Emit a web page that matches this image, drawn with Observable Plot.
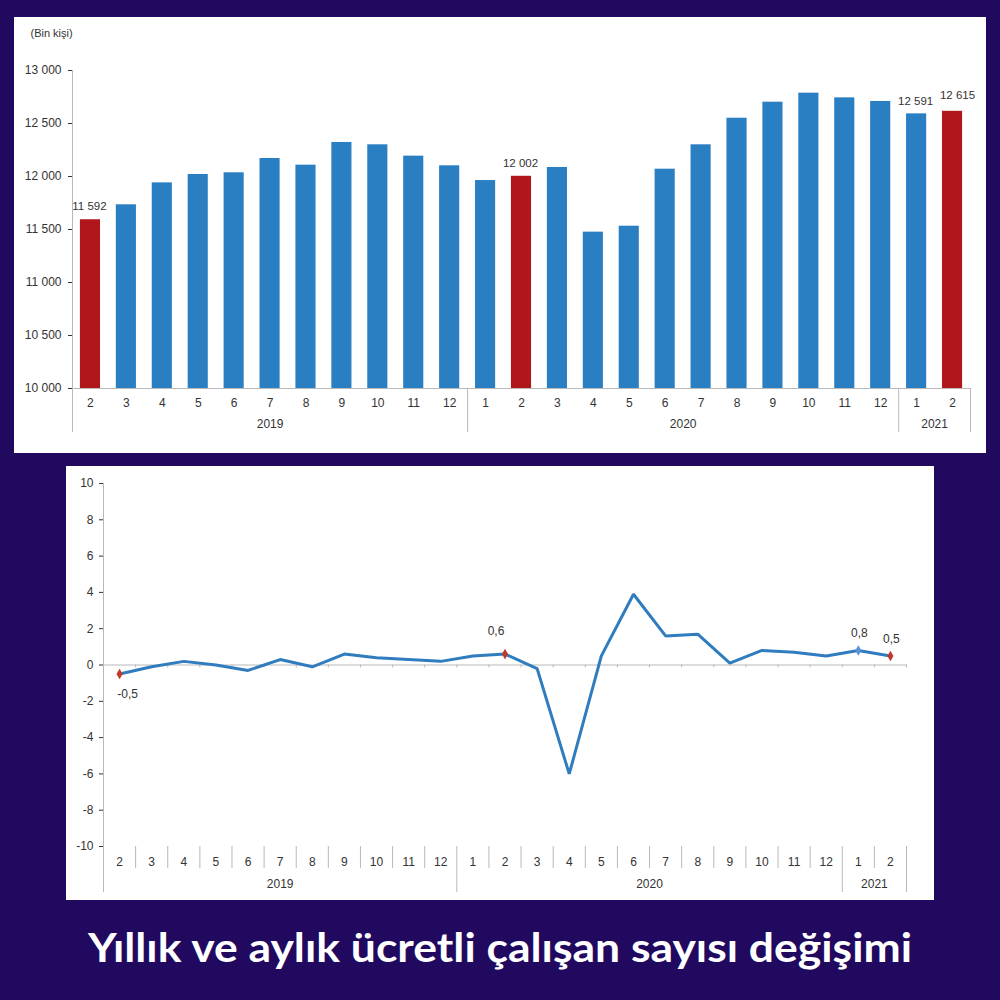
<!DOCTYPE html>
<html>
<head>
<meta charset="utf-8">
<script src="https://cdn.jsdelivr.net/npm/d3@7"></script>
<script src="https://cdn.jsdelivr.net/npm/@observablehq/plot@0.6"></script>
<style>
  body { margin: 0; background: #21095f; width: 1000px; height: 1000px; position: relative; overflow: hidden; }
  .panel { position: absolute; background: #ffffff; }
  #top { left: 14px; top: 17px; width: 972px; height: 436px; }
  #bottom { left: 66px; top: 466px; width: 868px; height: 434px; }
  #title { position: absolute; left: 0; top: 900px; }
  .panel svg { overflow: visible; }
</style>
</head>
<body>
<div id="top" class="panel"></div>
<div id="bottom" class="panel"></div>
<svg id="title" width="1000" height="100">
  <text x="500" y="62" text-anchor="middle" textLength="824" lengthAdjust="spacingAndGlyphs" fill="#ffffff" font-family="Lato, 'Open Sans', sans-serif" font-weight="700" font-size="40">Yıllık ve aylık ücretli çalışan sayısı değişimi</text>
</svg>
<script>
// ---- Data ----
const months = [2,3,4,5,6,7,8,9,10,11,12, 1,2,3,4,5,6,7,8,9,10,11,12, 1,2];
const years  = [2019,2019,2019,2019,2019,2019,2019,2019,2019,2019,2019,
                2020,2020,2020,2020,2020,2020,2020,2020,2020,2020,2020,2020,
                2021,2021];
// Ücretli çalışan sayısı (Bin kişi)
const employees = [11592,11733,11940,12019,12035,12170,12107,12321,12299,12192,12101,
                   11962,12002,12085,11475,11531,12069,12299,12550,12701,12786,12742,12708,
                   12591,12615];
// Aylık değişim (%)
const monthlyChange = [-0.5,-0.1,0.2,0.0,-0.3,0.3,-0.1,0.6,0.4,0.3,0.2,
                       0.5,0.6,-0.2,-6.0,0.5,3.9,1.6,1.7,0.1,0.8,0.7,0.5,
                       0.8,0.5];
const labeledPeriods = ["2019-2","2020-2","2021-1","2021-2"];
const yTicksTop = [10000,10500,11000,11500,12000,12500,13000];
const yTicksBottom = [-10,-8,-6,-4,-2,0,2,4,6,8,10];
const unitLabel = "(Bin kişi)";

// ---- Derived table ----
const rows = months.map((m, i) => ({
  i, month: m, year: years[i], value: employees[i], change: monthlyChange[i],
  key: `${years[i]}-${m}`
}));
const n = rows.length;
const yearGroups = d3.groups(rows, d => d.year).map(([year, rs]) => ({
  year: String(year), start: rs[0].i, end: rs[rs.length - 1].i + 1
}));
const yearBounds = [0, ...yearGroups.map(g => g.end)];
const innerBounds = d3.range(1, n).filter(b => !yearBounds.includes(b));
const fmt = v => d3.format(",")(v).replace(/,/g, " ");
const fmtComma = v => String(v).replace(".", ",");
const isLabeled = d => labeledPeriods.includes(d.key);

const BLUE = "#2a7fc3";
const RED = "#b1161b";
const TXT = "#333333";
const GRID = "#b8b8b8";
const FONT = "'Liberation Sans', Arial, sans-serif";

// ---- Top chart ----
{
  const W = 972, H = 436, mt = 53, mb = 65, ml = 58, mr = 16;
  const innerH = H - mt - mb;
  const yMin = 10000, yMax = 13000;
  const below = px => yMin - px * (yMax - yMin) / innerH;
  const labeledRows = rows.filter(isLabeled);
  const last = labeledRows[labeledRows.length - 1];
  const chart = Plot.plot({
    width: W, height: H, marginTop: mt, marginBottom: mb, marginLeft: ml, marginRight: mr,
    style: { fontFamily: FONT, fontSize: "12px", color: TXT, background: "transparent", overflow: "visible" },
    x: { domain: [0, n], axis: null },
    y: { domain: [yMin, yMax], ticks: yTicksTop, tickFormat: fmt, tickSize: 4, tickPadding: 7, label: null },
    marks: [
      Plot.rect(rows.filter(d => d.month !== 2), { x1: d => d.i + 0.22, x2: d => d.i + 0.78, y1: yMin, y2: "value", fill: BLUE }),
      Plot.rect(rows.filter(d => d.month === 2), { x1: d => d.i + 0.22, x2: d => d.i + 0.78, y1: yMin, y2: "value", fill: RED }),
      Plot.ruleY([yMin], { stroke: GRID }),
      Plot.ruleX([0], { y1: below(44), y2: yMax, stroke: GRID }),
      Plot.ruleX(yearBounds.slice(1), { y1: below(44), y2: yMin, stroke: GRID }),
      Plot.text(rows, { x: d => d.i + 0.5, text: d => String(d.month), frameAnchor: "bottom", dy: 18, fill: TXT }),
      Plot.text(yearGroups, { x: d => (d.start + d.end) / 2, text: "year", frameAnchor: "bottom", dy: 39, fill: TXT }),
      Plot.text(labeledRows.filter(d => d !== last), { x: d => d.i + 0.5, y: "value", text: d => fmt(d.value), dx: -1, dy: -13, fontSize: 11.5, fill: TXT }),
      Plot.text([last], { x: d => d.i + 0.5, y: "value", text: d => fmt(d.value), dx: 5, dy: -16, fontSize: 11.5, fill: TXT }),
      Plot.text([unitLabel], { frameAnchor: "top-left", textAnchor: "start", dx: -42, dy: -41, fontSize: 11, fill: TXT })
    ]
  });
  document.getElementById("top").appendChild(chart);
}

// ---- Bottom chart ----
{
  const W = 868, H = 434, mt = 17, mb = 54, ml = 37, mr = 28;
  const innerH = H - mt - mb;
  const yMin = -10, yMax = 10;
  const u = px => px * (yMax - yMin) / innerH;
  const chart = Plot.plot({
    width: W, height: H, marginTop: mt, marginBottom: mb, marginLeft: ml, marginRight: mr,
    style: { fontFamily: FONT, fontSize: "12px", color: TXT, background: "transparent", overflow: "visible" },
    x: { domain: [0, n], axis: null },
    y: { domain: [yMin, yMax], ticks: yTicksBottom, tickFormat: d => String(d), tickSize: 4, tickPadding: 6, label: null },
    marks: [
      Plot.ruleY([0], { stroke: GRID }),
      Plot.ruleX(d3.range(1, n + 1), { y1: 0, y2: -u(3), stroke: GRID }),
      Plot.ruleX([0], { y1: yMin - u(46), y2: yMax, stroke: GRID }),
      Plot.ruleX(innerBounds, { y1: yMin - u(22), y2: yMin, stroke: GRID }),
      Plot.ruleX(yearBounds.slice(1), { y1: yMin - u(46), y2: yMin, stroke: GRID }),
      Plot.line(rows, { x: d => d.i + 0.5, y: "change", stroke: "#2f7cbf", strokeWidth: 3, strokeLinejoin: "miter" }),
      Plot.dot(rows.filter(d => d.month === 2), { x: d => d.i + 0.5, y: "change", symbol: "diamond", r: 3.2, fill: "#c0392b", stroke: "none" }),
      Plot.dot(rows.filter(d => isLabeled(d) && d.month !== 2), { x: d => d.i + 0.5, y: "change", symbol: "diamond", r: 3.2, fill: "#5b8fd6", stroke: "none" }),
      Plot.text(rows.filter(d => isLabeled(d) && d.change < 0), { x: d => d.i + 0.5, y: "change", text: d => fmtComma(d.change), dx: 8, dy: 20, fill: TXT }),
      Plot.text(rows.filter(d => isLabeled(d) && d.change >= 0 && d.month === 2 && d.year === 2020), { x: d => d.i + 0.5, y: "change", text: d => fmtComma(d.change), dx: -9, dy: -23, fill: TXT }),
      Plot.text(rows.filter(d => isLabeled(d) && d.year === 2021), { x: d => d.i + 0.5, y: "change", text: d => fmtComma(d.change), dx: 1, dy: -17, fill: TXT }),
      Plot.text(rows, { x: d => d.i + 0.5, text: d => String(d.month), frameAnchor: "bottom", dy: 19, fill: TXT }),
      Plot.text(yearGroups, { x: d => (d.start + d.end) / 2, text: "year", frameAnchor: "bottom", dy: 41, fill: TXT })
    ]
  });
  document.getElementById("bottom").appendChild(chart);
}
</script>
</body>
</html>
